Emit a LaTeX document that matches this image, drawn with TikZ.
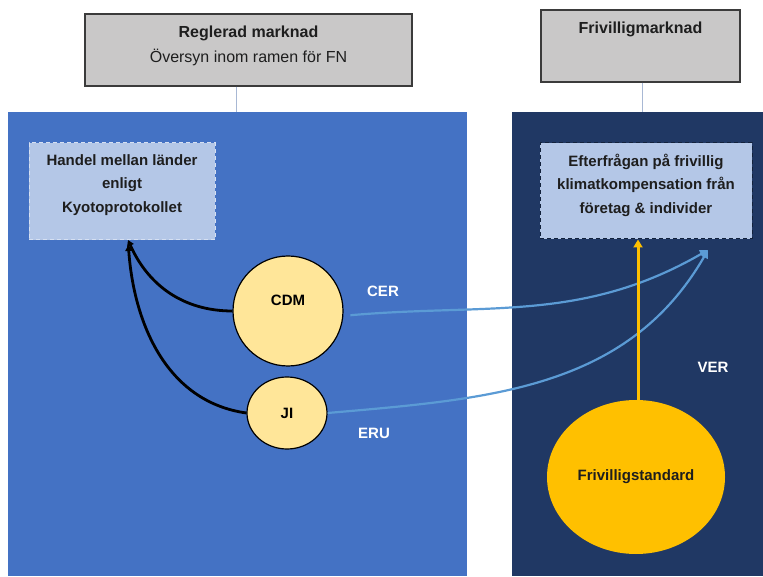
\documentclass[tikz,border=0pt]{standalone}
\usepackage{fontspec}
\setmainfont{Liberation Sans}
\usetikzlibrary{arrows.meta,shapes.geometric}

\definecolor{boxgray}{HTML}{C9C8C8}
\definecolor{boxedge}{HTML}{3B3B3B}
\definecolor{panelblue}{HTML}{4472C4}
\definecolor{paneldark}{HTML}{203864}
\definecolor{innerblue}{HTML}{B4C7E7}
\definecolor{dashlight}{HTML}{D6E0F2}
\definecolor{linkgray}{HTML}{A8B8D4}
\definecolor{mechyellow}{HTML}{FFE699}
\definecolor{stdyellow}{HTML}{FFC000}
\definecolor{flowblue}{HTML}{5B9BD5}
\definecolor{textdark}{HTML}{1E1E1E}

\begin{document}
\begin{tikzpicture}[x=1pt,y=1pt,
    graybox/.style={draw=boxedge, line width=1.3pt, fill=boxgray},
    innerbox/.style={fill=innerblue, dashed, dash pattern=on 4pt off 3pt, line width=1pt},
    boxtext/.style={align=center, text=textdark, font=\bfseries\fontsize{15}{23.5}\selectfont},
    mechanism/.style={circle, draw=black, line width=1.2pt, fill=mechyellow, inner sep=0pt,
      font=\bfseries\fontsize{15}{18}\selectfont},
    unitlabel/.style={text=white, font=\bfseries\fontsize{15}{18}\selectfont},
    toregl/.style={draw=black, line width=2.8pt, -{Triangle[length=6pt,width=7pt]}},
    tofriv/.style={draw=flowblue, line width=2.2pt, -{Triangle[length=8pt,width=8pt]}}]
  \useasboundingbox (0,0) rectangle (763,576);

  % marknader
  \node[graybox, minimum width=327pt, minimum height=72pt] (regl) at (248.5,526) {};
  \node[text=textdark, font=\bfseries\fontsize{16}{19}\selectfont] (regl-t) at (248.5,543) {Reglerad marknad};
  \node[text=textdark, font=\fontsize{16}{19}\selectfont] (regl-s) at (248.5,519) {Översyn inom ramen för FN};
  \node[graybox, minimum width=199pt, minimum height=72pt] (friv) at (640.5,530) {};
  \node[text=textdark, font=\bfseries\fontsize{16}{19}\selectfont] (friv-t) at (640.5,547) {Frivilligmarknad};

  % paneler
  \fill[panelblue] (8,0) rectangle (467,464);
  \fill[paneldark] (512,0) rectangle (763,464);
  \coordinate (regl-panel) at (236,464);
  \coordinate (friv-panel) at (642,464);
  \draw[linkgray, line width=1pt] (regl.south -| regl-panel) -- (regl-panel);
  \draw[linkgray, line width=1pt] (friv.south -| friv-panel) -- (friv-panel);

  % efterfrågan
  \node[innerbox, draw=dashlight, minimum width=186pt, minimum height=97pt] (kyoto) at (122,384.5) {};
  \node[boxtext] (kyoto-t) at (122,391) {Handel mellan länder\\enligt\\Kyotoprotokollet};
  \node[innerbox, draw=paneldark!60!black, minimum width=212pt, minimum height=96pt] (efter) at (646,385) {};
  \node[boxtext] (efter-t) at (646,391) {Efterfrågan på frivillig\\klimatkompensation från\\företag \& individer};

  % mekanismer
  \node[mechanism, minimum size=110pt, label={[yshift=11pt, font=\bfseries\fontsize{15}{18}\selectfont]center:CDM}] (cdm) at (288,265) {};
  \node[mechanism, ellipse, minimum width=80pt, minimum height=72pt] (ji) at (287,163) {JI};
  \node[ellipse, fill=stdyellow, minimum width=178pt, minimum height=154pt,
    font=\bfseries\fontsize{15}{18}\selectfont, text=textdark] (frivst) at (636,99) {Frivilligstandard};

  % flöden
  \coordinate (kyoto-in) at (128,336);
  \coordinate (efter-in) at (708,326);
  \draw[toregl] (cdm.west) to[out=180, in=-66] (kyoto-in);
  \draw[toregl, shorten >=5pt] (ji.west) to[out=172, in=-86] (kyoto-in);
  \draw[tofriv, shorten <=7pt] (cdm.-5) to[out=5, in=210] (efter-in);
  \draw[tofriv] (ji.east) to[out=5, in=240] (efter-in);
  \draw[draw=stdyellow, line width=3pt, -{Triangle[length=8pt,width=9pt]}]
    ([xshift=2pt]frivst.north) -- ([xshift=2pt]frivst.north |- efter.south);

  \node[unitlabel] (cer) at (383,285) {CER};
  \node[unitlabel] (eru) at (374,143) {ERU};
  \node[unitlabel] (ver) at (713,209) {VER};
\end{tikzpicture}
\end{document}
